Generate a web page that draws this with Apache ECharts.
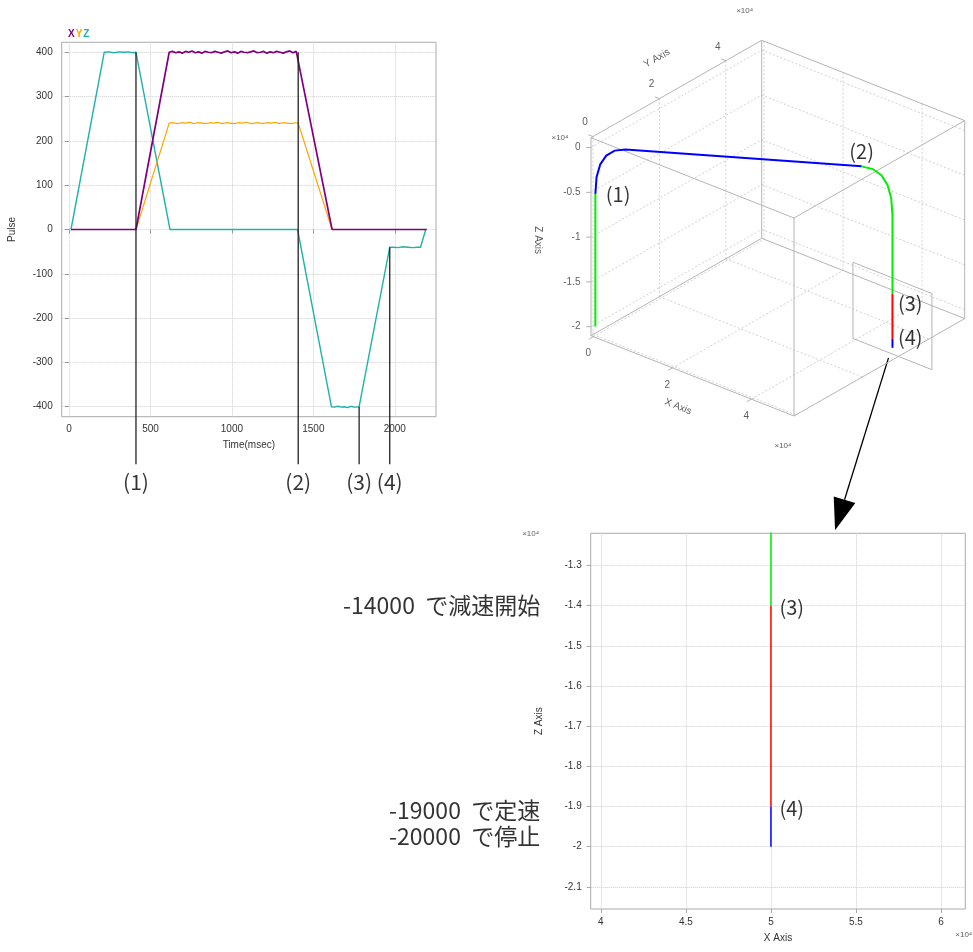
<!DOCTYPE html>
<html><head><meta charset="utf-8">
<script src="https://cdn.jsdelivr.net/npm/echarts@6/dist/echarts.min.js"></script>
<style>html,body{margin:0;padding:0;background:#fff}#c{width:973px;height:952px}</style>
</head><body><div id="c"></div>
<script>
// ================= DATA =================
// Time chart: [time (msec), pulse]
const pulseX = [[12,0],[411,0],[615,400],[635,402],[655,399],[675,401],[695,398],[715,402],[735,400],[755,403],[775,399],[795,401],[815,398],[835,402],[855,400],[875,399],[895,402],[915,400],[935,398],[955,401],[975,403],[995,399],[1015,401],[1035,398],[1055,402],[1075,400],[1095,399],[1115,401],[1135,403],[1155,399],[1175,400],[1195,402],[1215,398],[1235,401],[1255,399],[1275,402],[1295,400],[1315,398],[1335,401],[1355,403],[1375,399],[1395,402],[1407,400],[1615,0],[2195,0]];
const pulseY = [[12,0],[411,0],[615,240],[640,241],[665,239],[690,241],[715,240],[740,242],[765,239],[790,241],[815,240],[840,239],[865,241],[890,240],[915,242],[940,239],[965,241],[990,240],[1015,239],[1040,241],[1065,240],[1090,242],[1115,239],[1140,240],[1165,241],[1190,239],[1215,241],[1240,240],[1265,242],[1290,239],[1315,241],[1340,240],[1365,239],[1390,241],[1407,240],[1615,0],[2195,0]];
const pulseZ = [[12,0],[216,400],[245,401],[275,399],[305,401],[335,400],[365,401],[390,399],[411,400],[620,0],[1403,0],[1611,-400],[1630,-401],[1650,-399],[1670,-401],[1690,-400],[1710,-402],[1730,-399],[1750,-401],[1781,-400],[1969,-40],[1990,-40],[2020,-41],[2050,-39],[2080,-40],[2110,-41],[2140,-40],[2158,-40],[2190,0],[2197,0]];
const seriesNames = ['X','Y','Z'];
const timeTicks = [0,500,1000,1500,2000];
const pulseTicks = [-400,-300,-200,-100,0,100,200,300,400];
const markerTimes = [411,1407,1781,1969];
const markerFrom = [400,400,-400,-40];
const markerNames = ['(1)','(2)','(3)','(4)'];

// 3D path segments [x, y, z] (x10^4 pulse)
const pathGreenUp   = [[0,0,-2],[0,0,-0.52]];
const pathBlueTop   = [[0,0,-0.52],[0.02,0.012,-0.333],[0.081,0.049,-0.187],[0.183,0.11,-0.083],[0.325,0.195,-0.021],[0.508,0.305,0],[4.48,2.69,0]];
const pathGreenDown = [[4.48,2.69,0],[4.667,2.802,-0.021],[4.813,2.888,-0.083],[4.917,2.95,-0.187],[4.979,2.988,-0.333],[5,3,-0.52],[5,3,-1.4]];
const pathRed       = [[5,3,-1.4],[5,3,-1.9]];
const pathBlueEnd   = [[5,3,-1.9],[5,3,-2.0]];
const ticks3dX = [0,2,4];
const ticks3dY = [0,2,4];
const ticks3dZ = [0,-0.5,-1,-1.5,-2];
const points3dNames = ['(1)','(2)','(3)','(4)'];
const points3d = [[0,0,-0.52],[4.48,2.69,0],[5,3,-1.4],[5,3,-1.9]];
const zoomBoxX = [4,6];
const zoomBoxZ = [-2.07,-1.22];
const zoomBoxY = 3;

// Detail chart (X-Z view)
const detailXTicks = [4,4.5,5,5.5,6];
const detailZTicks = [-1.3,-1.4,-1.5,-1.6,-1.7,-1.8,-1.9,-2,-2.1];
const detailPointNames = ['(3)','(4)'];
const detailPoints = [[5,-1.4],[5,-1.9]];
const noteTexts = ['-14000  で減速開始','-19000  で定速','-20000  で停止'];
const noteZ = [-1.4,-1.9,-2.0];

// ================= LAYOUT / STYLE =================
const FONT = '"Liberation Sans", Arial, sans-serif';
const JFONT = '"Noto Sans CJK JP", sans-serif';
const colX = '#800080', colY = '#ffa500', colZ = '#20b2aa';
const cGreen = '#00ee00', cBlue = '#0000ff', cRed = '#ff0000';

const timeRange = [-45, 2253], pulseRange = [-422.5, 422.5];
const G0 = {left:61.7, top:42.3, width:374.3, height:374.4};
const pxPerPulse = G0.height / (pulseRange[1]-pulseRange[0]);
const G1 = {left:G0.left, top:G0.top, width:G0.width, height:492 - G0.top};
const g1Min = pulseRange[1] - G1.height/pxPerPulse;

const X3 = [-0.06, 5.08], Y3 = [-0.06, 5.08], Z3 = [-2.1, 0.11];
const PX = [203, -80.3], PY = [170.7, 97.4], PZ = [0, 198];
const G2 = {left:520, top:0, width:453, height:452};
const origin = [591, 335.7];
const uRange = [G2.left-origin[0], G2.left+G2.width-origin[0]];
const vRange = [origin[1]-(G2.top+G2.height), origin[1]-G2.top];

const detailXRange = [3.94, 6.143], detailZRange = [-2.155, -1.22];
const G3 = {left:590.7, top:533.3, width:374.6, height:375.7};

function proj(p){
  const fx=(p[0]-X3[0])/(X3[1]-X3[0]), fy=(p[1]-Y3[0])/(Y3[1]-Y3[0]), fz=(p[2]-Z3[0])/(Z3[1]-Z3[0]);
  return [fx*PX[0]+fy*PY[0]+fz*PZ[0], fx*PX[1]+fy*PY[1]+fz*PZ[1]];
}
function seg(a,b){ return {coords:[proj(a),proj(b)]}; }
function addv(p,d,k){ return [p[0]+d[0]*k, p[1]+d[1]*k]; }
const plain = v => String(v);

// box edges
const edges=[];
for (const y of Y3) for (const z of Z3) edges.push(seg([X3[0],y,z],[X3[1],y,z]));
for (const x of X3) for (const z of Z3) edges.push(seg([x,Y3[0],z],[x,Y3[1],z]));
for (const x of X3) for (const y of Y3) edges.push(seg([x,y,Z3[0]],[x,y,Z3[1]]));
// wall grid lines
const gridLines=[];
ticks3dX.forEach(x=>{ gridLines.push(seg([x,Y3[0],Z3[0]],[x,Y3[1],Z3[0]])); gridLines.push(seg([x,Y3[1],Z3[0]],[x,Y3[1],Z3[1]])); });
ticks3dY.forEach(y=>{ gridLines.push(seg([X3[0],y,Z3[0]],[X3[1],y,Z3[0]])); gridLines.push(seg([X3[0],y,Z3[0]],[X3[0],y,Z3[1]])); });
ticks3dZ.forEach(z=>{ gridLines.push(seg([X3[0],Y3[0],z],[X3[0],Y3[1],z])); gridLines.push(seg([X3[0],Y3[1],z],[X3[1],Y3[1],z])); });
// tick marks
const dirNegY=[-0.869,-0.496], dirNegX=[-0.93,0.368], dirLeft=[-1,0];
const tickSegs=[];
ticks3dX.forEach(x=>{ const p=proj([x,Y3[0],Z3[0]]); tickSegs.push({coords:[p,addv(p,dirNegY,5)]}); });
ticks3dY.forEach(y=>{ const p=proj([X3[0],y,Z3[1]]); tickSegs.push({coords:[p,addv(p,dirNegX,5)]}); });
ticks3dZ.forEach(z=>{ const p=proj([X3[0],Y3[0],z]); tickSegs.push({coords:[p,addv(p,dirLeft,5)]}); });
// zoom box
const zb=[[zoomBoxX[0],zoomBoxY,zoomBoxZ[0]],[zoomBoxX[1],zoomBoxY,zoomBoxZ[0]],[zoomBoxX[1],zoomBoxY,zoomBoxZ[1]],[zoomBoxX[0],zoomBoxY,zoomBoxZ[1]],[zoomBoxX[0],zoomBoxY,zoomBoxZ[0]]].map(proj);

const small = {fontSize:10, color:'#333', fontFamily:FONT};
function lbl(value, text, extra){ return {value, name:text, label:Object.assign({show:true, position:'inside', formatter:'{b}', fontSize:10, color:'#333', fontFamily:FONT}, extra||{})}; }
const labels3d = [];
ticks3dX.forEach(x=>labels3d.push(lbl(proj([x,Y3[0],Z3[0]]), String(x), {offset:[-5,17]})));
ticks3dY.forEach(y=>labels3d.push(lbl(proj([X3[0],y,Z3[1]]), String(y), {offset:[-8,-14]})));
ticks3dZ.forEach(z=>labels3d.push(lbl(proj([X3[0],Y3[0],z]), String(z), {position:'left', distance:10})));
// axis names (offsets are in the rotated text frame)
labels3d.push(lbl(proj([2.5,Y3[0],Z3[0]]), 'X Axis', {offset:[-1.6,34], rotate:-21.6}));
labels3d.push(lbl(proj([X3[0],2.5,Z3[1]]), 'Y Axis', {offset:[-1.2,-36.3], rotate:29.7}));
labels3d.push(lbl(proj([X3[0],Y3[0],-1]), 'Z Axis', {offset:[3,53], rotate:-90}));
labels3d.push(lbl(proj([X3[0],Y3[1],Z3[1]]), '×10⁴', {offset:[-17,-30], fontSize:8}));
labels3d.push(lbl(proj([X3[1],Y3[0],Z3[0]]), '×10⁴', {offset:[-11,30], fontSize:8}));
labels3d.push(lbl(proj([X3[0],Y3[0],Z3[1]]), '×10⁴', {offset:[-31,0], fontSize:8}));

const bigLbl = {show:true, formatter:'{b}', fontSize:20, color:'#000', fontFamily:JFONT};
const pts3d = points3d.map((p,i)=>{
  const cfg = [{position:'right',distance:10},{position:'top',distance:4},{position:'right',distance:5,offset:[0,9]},{position:'right',distance:5,offset:[0,-1]}][i];
  return {value:proj(p), name:points3dNames[i], label:Object.assign({}, bigLbl, cfg)};
});

const transparent = {color:'rgba(0,0,0,0)'};
const splitDotted = {show:true, lineStyle:{type:'dotted', color:'#cfcfcf', width:1}};

const option = {
  animation:false,
  textStyle:{fontFamily:FONT},
  legend:{
    data:[{name:'X',textStyle:{color:colX}},{name:'Y',textStyle:{color:colY}},{name:'Z',textStyle:{color:colZ}}],
    left:58, top:24, icon:'none', itemWidth:0, itemHeight:0, itemGap:-4, selectedMode:false,
    textStyle:{fontSize:10, fontWeight:'bold', fontFamily:FONT}
  },
  grid:[
    Object.assign({show:true, borderColor:'#aaa', borderWidth:1}, G0),
    Object.assign({show:false}, G1),
    Object.assign({show:false}, G2),
    Object.assign({show:true, borderColor:'#aaa', borderWidth:1}, G3)
  ],
  xAxis:[
    {gridIndex:0, type:'value', min:timeRange[0], max:timeRange[1], name:'Time(msec)', nameLocation:'middle', nameGap:24, nameTextStyle:small,
     axisLine:{show:false}, axisTick:{show:true, length:4, lineStyle:{color:'#999'}, customValues:timeTicks},
     axisLabel:Object.assign({customValues:timeTicks, margin:8, formatter:plain}, small), splitLine:splitDotted},
    {gridIndex:1, type:'value', min:timeRange[0], max:timeRange[1], show:false},
    {gridIndex:2, type:'value', min:uRange[0], max:uRange[1], show:false},
    {gridIndex:3, type:'value', min:detailXRange[0], max:detailXRange[1], name:'X Axis', nameLocation:'middle', nameGap:24, nameTextStyle:small,
     axisLine:{show:false}, axisTick:{show:true, length:4, lineStyle:{color:'#aaa'}, customValues:detailXTicks},
     axisLabel:Object.assign({customValues:detailXTicks, margin:8, formatter:plain}, small), splitLine:splitDotted}
  ],
  yAxis:[
    {gridIndex:0, type:'value', min:pulseRange[0], max:pulseRange[1], name:'Pulse', nameLocation:'middle', nameGap:44, nameTextStyle:small,
     axisLine:{show:false}, axisTick:{show:true, length:4, lineStyle:{color:'#999'}, customValues:pulseTicks},
     axisLabel:Object.assign({customValues:pulseTicks, margin:9, formatter:plain}, small), splitLine:splitDotted},
    {gridIndex:1, type:'value', min:g1Min, max:pulseRange[1], show:false},
    {gridIndex:2, type:'value', min:vRange[0], max:vRange[1], show:false},
    {gridIndex:3, type:'value', min:detailZRange[0], max:detailZRange[1], name:'Z Axis', nameLocation:'middle', nameGap:46, nameTextStyle:small,
     axisLine:{show:false}, axisTick:{show:true, length:4, lineStyle:{color:'#aaa'}, customValues:detailZTicks},
     axisLabel:Object.assign({customValues:detailZTicks, margin:9, formatter:plain}, small), splitLine:splitDotted}
  ],
  series:[
    // time chart
    {name:'Z', type:'line', xAxisIndex:0, yAxisIndex:0, data:pulseZ, showSymbol:false, symbol:'none', lineStyle:{color:colZ, width:1.4}, itemStyle:{color:colZ}, z:2},
    {name:'Y', type:'line', xAxisIndex:0, yAxisIndex:0, data:pulseY, showSymbol:false, symbol:'none', lineStyle:{color:colY, width:1.2}, itemStyle:{color:colY}, z:3},
    {name:'X', type:'line', xAxisIndex:0, yAxisIndex:0, data:pulseX, showSymbol:false, symbol:'none', lineStyle:{color:colX, width:1.7}, itemStyle:{color:colX}, z:4},
    // marker lines
    {type:'lines', coordinateSystem:'cartesian2d', xAxisIndex:1, yAxisIndex:1, polyline:true, z:5,
     data:markerTimes.map((t,i)=>({coords:[[t,markerFrom[i]],[t,-530]]})), lineStyle:{color:'#222', width:1.3, opacity:1}},
    {type:'scatter', xAxisIndex:1, yAxisIndex:1, symbolSize:1, itemStyle:transparent, clip:false, z:5,
     data:markerTimes.map((t,i)=>({value:[t,-570], name:markerNames[i]})), label:Object.assign({}, bigLbl, {position:'inside', fontSize:21})},
    // 3D chart
    {type:'lines', coordinateSystem:'cartesian2d', xAxisIndex:2, yAxisIndex:2, polyline:true, z:1, data:gridLines, lineStyle:{color:'#d0d0d0', width:1, type:[2,2], opacity:1}},
    {type:'lines', coordinateSystem:'cartesian2d', xAxisIndex:2, yAxisIndex:2, polyline:true, z:2, data:edges.concat(tickSegs), lineStyle:{color:'#b4b4b4', width:1, opacity:1}},
    {type:'lines', coordinateSystem:'cartesian2d', xAxisIndex:2, yAxisIndex:2, polyline:true, z:2, data:[{coords:zb}], lineStyle:{color:'#b4b4b4', width:1, opacity:1}},
    {type:'lines', coordinateSystem:'cartesian2d', xAxisIndex:2, yAxisIndex:2, polyline:true, z:4,
     data:[
       {coords:pathGreenUp.map(proj), lineStyle:{color:cGreen}},
       {coords:pathBlueTop.map(proj), lineStyle:{color:cBlue}},
       {coords:pathGreenDown.map(proj), lineStyle:{color:cGreen}},
       {coords:pathRed.map(proj), lineStyle:{color:cRed}},
       {coords:pathBlueEnd.map(proj), lineStyle:{color:cBlue}}
     ], lineStyle:{width:2, opacity:1}},
    {type:'scatter', xAxisIndex:2, yAxisIndex:2, symbolSize:1, itemStyle:transparent, clip:false, z:5, data:labels3d},
    {type:'scatter', xAxisIndex:2, yAxisIndex:2, symbolSize:1, itemStyle:transparent, clip:false, z:5, data:pts3d},
    // detail chart
    {type:'line', xAxisIndex:3, yAxisIndex:3, data:pathGreenDown.map(p=>[p[0],p[2]]), showSymbol:false, symbol:'none', lineStyle:{color:cGreen, width:1.5}, clip:true, z:3},
    {type:'line', xAxisIndex:3, yAxisIndex:3, data:pathRed.map(p=>[p[0],p[2]]), showSymbol:false, symbol:'none', lineStyle:{color:cRed, width:1.5}, clip:true, z:3},
    {type:'line', xAxisIndex:3, yAxisIndex:3, data:pathBlueEnd.map(p=>[p[0],p[2]]), showSymbol:false, symbol:'none', lineStyle:{color:cBlue, width:1.5}, clip:true, z:3},
    {type:'scatter', xAxisIndex:3, yAxisIndex:3, symbolSize:1, itemStyle:transparent, clip:false, z:5,
     data:detailPoints.map((p,i)=>({value:p, name:detailPointNames[i]})), label:Object.assign({}, bigLbl, {position:'right', distance:8, offset:[0,2]})},
    {type:'scatter', xAxisIndex:3, yAxisIndex:3, symbolSize:1, itemStyle:transparent, clip:false, z:5,
     data:noteTexts.map((t,i)=>({value:[detailXRange[0], noteZ[i]], name:t, label:{offset:[0,[0,4,-10][i]]}})),
     label:{show:true, formatter:'{b}', position:'left', distance:50, fontSize:23, color:'#000', fontFamily:JFONT}},
    {type:'scatter', xAxisIndex:3, yAxisIndex:3, symbolSize:1, itemStyle:transparent, clip:false, z:5,
     data:[lbl([detailXRange[0],detailZRange[1]], '×10⁴', {offset:[-60,0], fontSize:8}),
           lbl([detailXRange[1],detailZRange[0]], '×10⁴', {offset:[-10,26], fontSize:8, align:'left'})]}
  ]
};
const chart = echarts.init(document.getElementById('c'), null, {renderer:'canvas', width:973, height:952});
chart.setOption(option);

// arrow from zoom box (3D) to detail chart
const arrowFrom3d = [4.9, 3, -2.13];
const arrowTo = [5.377, detailZRange[1]];
const A = chart.convertToPixel({xAxisIndex:2, yAxisIndex:2}, proj(arrowFrom3d));
const B = chart.convertToPixel({xAxisIndex:3, yAxisIndex:3}, arrowTo);
B[1] -= 3;
const dx=B[0]-A[0], dy=B[1]-A[1], L=Math.hypot(dx,dy), ux=dx/L, uy=dy/L;
const headLen=32, headHalf=11.3;
const base=[B[0]-ux*headLen, B[1]-uy*headLen], perp=[-uy, ux];
chart.setOption({graphic:[
  {type:'line', shape:{x1:A[0], y1:A[1], x2:base[0], y2:base[1]}, style:{stroke:'#000', lineWidth:1.3}},
  {type:'polygon', shape:{points:[B,[base[0]+perp[0]*headHalf, base[1]+perp[1]*headHalf],[base[0]-perp[0]*headHalf, base[1]-perp[1]*headHalf]]}, style:{fill:'#000'}}
]});
</script>
</body></html>
